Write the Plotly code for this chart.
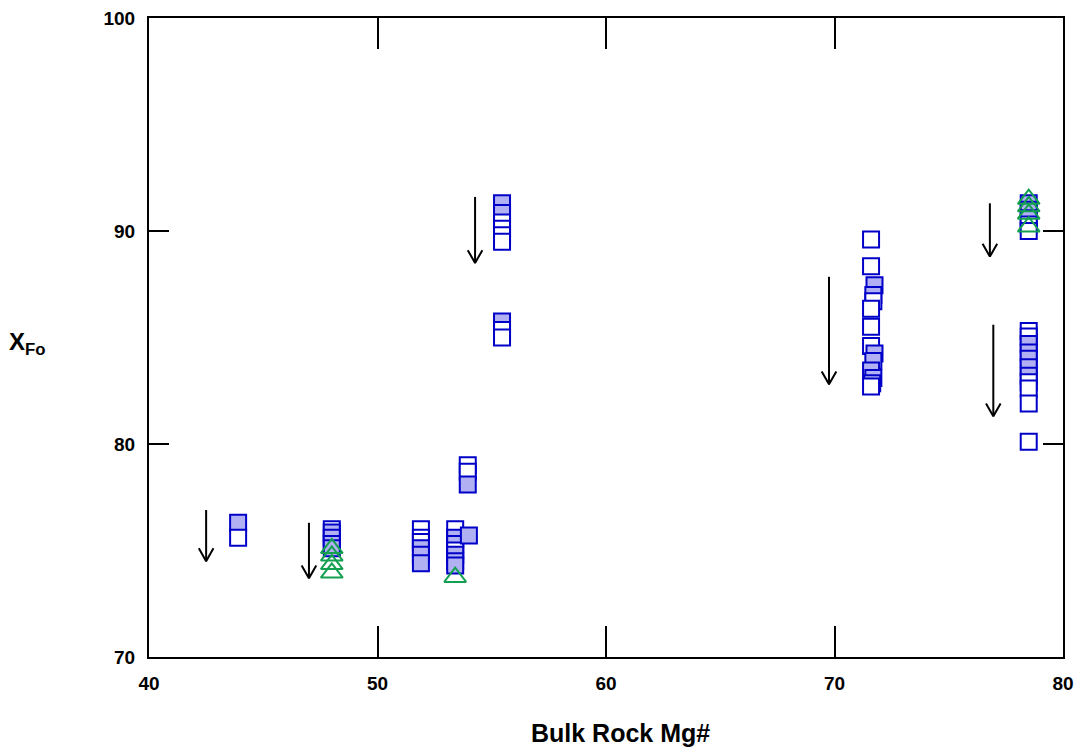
import plotly.graph_objects as go

# Squares: bulk rock Mg#, XFo, filled flag (1 = shaded, 0 = open)
sq_x = [43.9, 43.9,
        48.0, 48.0, 48.0, 48.0, 48.0,
        51.9, 51.9, 51.9, 51.9, 51.9, 51.9,
        53.4, 53.4, 53.4, 53.4, 53.4, 53.4, 53.4, 54.0,
        53.95, 53.95, 53.95,
        55.45, 55.45, 55.45, 55.45, 55.45, 55.45, 55.45, 55.45, 55.45,
        71.6, 71.6, 71.75, 71.7, 71.7, 71.6, 71.6, 71.6, 71.75, 71.7, 71.6, 71.7, 71.65, 71.6,
        78.5, 78.5, 78.5, 78.5, 78.5,
        78.5, 78.5, 78.5, 78.5, 78.5, 78.5, 78.5, 78.5, 78.5, 78.5, 78.5]
sq_y = [76.3, 75.6,
        76.0, 75.85, 75.6, 75.3, 75.1,
        76.0, 75.6, 75.4, 75.1, 74.8, 74.4,
        76.0, 75.6, 75.3, 75.0, 74.8, 74.5, 74.3, 75.7,
        79.0, 78.7, 78.1,
        91.3, 90.85, 90.4, 90.1, 89.8, 89.5, 85.75, 85.35, 85.0,
        89.6, 88.35, 87.45, 87.0, 86.7, 86.35, 85.5, 84.6, 84.25, 83.9, 83.45, 83.1, 82.85, 82.7,
        91.3, 91.0, 90.6, 90.3, 90.0,
        85.3, 85.05, 84.7, 84.3, 84.0, 83.6, 83.2, 82.9, 82.6, 81.9, 80.1]
sq_filled = [1, 0,
             0, 1, 1, 1, 1,
             0, 0, 0, 1, 1, 1,
             0, 1, 1, 0, 1, 1, 1, 1,
             0, 0, 1,
             1, 1, 0, 0, 0, 0, 1, 0, 0,
             0, 0, 1, 1, 0, 0, 0, 0, 1, 1, 1, 1, 1, 0,
             1, 1, 1, 0, 0,
             0, 0, 1, 1, 1, 1, 1, 0, 0, 0, 0]

# Triangles
tri_x = [48.0, 48.0, 48.0, 48.0, 53.4, 78.5, 78.5, 78.5, 78.5]
tri_y = [75.1, 74.75, 74.35, 73.95, 73.75, 91.5, 91.15, 90.8, 90.2]

# Arrows (x, start y, end y)
arr_x = [42.5, 47.0, 54.27, 69.76, 76.8, 76.95]
arr_y0 = [76.9, 76.3, 91.6, 87.85, 91.3, 85.6]
arr_y1 = [74.5, 73.7, 88.5, 82.8, 88.8, 81.3]

x_ticks = [40, 50, 60, 70, 80]
y_ticks = [70, 80, 90, 100]

BLUE = "#0000c8"
FILL = "#b0b0f2"
GREEN = "#14a050"

fig = go.Figure()

# arrows
for x, y0, y1 in zip(arr_x, arr_y0, arr_y1):
    dx, dy = 0.32, 0.6
    fig.add_trace(go.Scatter(x=[x, x, None, x - dx, x, x + dx],
                             y=[y0, y1, None, y1 + dy, y1, y1 + dy],
                             mode="lines", line=dict(color="black", width=2),
                             hoverinfo="skip", showlegend=False))

fig.add_trace(go.Scatter(
    x=sq_x, y=sq_y, mode="markers", showlegend=False,
    marker=dict(symbol="square", size=16,
                color=[FILL if f else "white" for f in sq_filled],
                line=dict(color=BLUE, width=2))))

fig.add_trace(go.Scatter(
    x=tri_x, y=tri_y, mode="markers", showlegend=False,
    marker=dict(symbol="triangle-up-open", size=19,
                color=GREEN, line=dict(color=GREEN, width=2))))

tickfont = dict(family="Liberation Sans", size=19, color="black", weight="bold")

fig.update_layout(
    width=1077, height=749,
    margin=dict(l=149, r=14, t=18, b=92, autoexpand=False),
    paper_bgcolor="white", plot_bgcolor="white",
    xaxis=dict(range=[40, 80], tickvals=x_ticks, ticks="inside", ticklen=31,
               tickwidth=2, tickcolor="black", showline=True, linecolor="black",
               linewidth=2, mirror="ticks", showgrid=False, zeroline=False,
               tickfont=tickfont, ticklabelstandoff=8, automargin=False,
               ticklabeloverflow="allow"),
    yaxis=dict(range=[70, 100], tickvals=y_ticks, ticks="inside", ticklen=20,
               tickwidth=2, tickcolor="black", showline=True, linecolor="black",
               linewidth=2, mirror="ticks", showgrid=False, zeroline=False,
               tickfont=tickfont, ticklabelstandoff=8, automargin=False,
               ticklabeloverflow="allow"),
    annotations=[
        dict(text="X<sub>Fo</sub>", x=-0.155, y=0.49, xref="paper",
             yref="paper", xanchor="left", yanchor="middle", showarrow=False,
             font=dict(family="Liberation Sans", size=24, color="black",
                       weight="bold")),
        dict(text="Bulk Rock Mg#", x=0.516, y=-0.119, xref="paper",
             yref="paper", xanchor="center", yanchor="middle", showarrow=False,
             font=dict(family="Liberation Sans", size=25, color="black",
                       weight="bold")),
    ],
)

fig.write_html("out.html")
